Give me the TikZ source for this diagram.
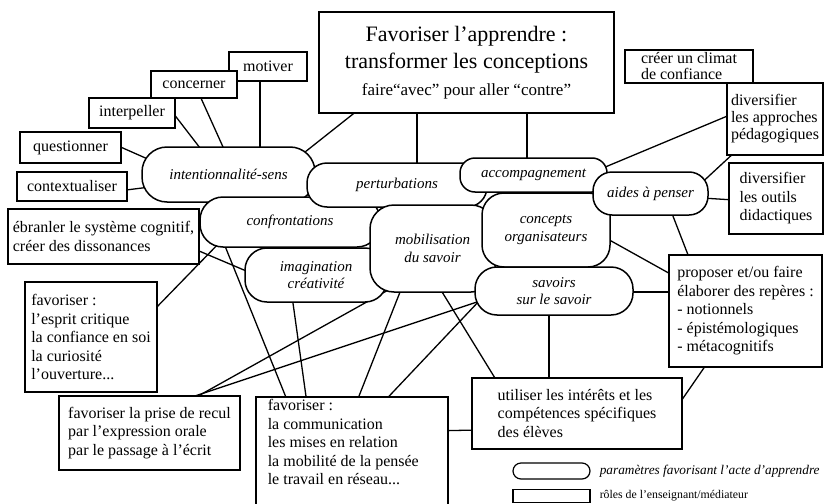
\documentclass[tikz,border=0pt]{standalone}
\usepackage{fontspec}
\setmainfont{Liberation Serif}
\usetikzlibrary{positioning, backgrounds}

\begin{document}
\begin{tikzpicture}[x=1pt, y=-1pt]
		\tikzstyle{Role} = [rectangle, draw=black, fill=white, line width=1.5pt, align=left, inner sep=0pt, font=\fontsize{16}{18.5}\selectfont]
		\tikzstyle{Param} = [rectangle, rounded corners=20pt, draw=black, fill=white, line width=1.5pt, align=center, inner sep=0pt, font=\fontsize{15}{17.5}\selectfont\itshape]
		\tikzstyle{link} = [line width=1.3pt, black]
		
		\useasboundingbox (0,0) rectangle (826,503);
		
		\node (motiver) [Role, minimum width=78, minimum height=29] at (268,66.5) {motiver};
		\node (concerner) [Role, minimum width=86, minimum height=27] at (194,84.5) {concerner};
		\node (interpeller) [Role, minimum width=86, minimum height=30] at (132,113) {interpeller};
		\node (questionner) [Role, minimum width=101, minimum height=31] at (70.5,147.5) {questionner};
		\node (contextualiser) [Role, minimum width=110, minimum height=29] at (72,186.5) {contextualiser};
		\node (ebranler) [Role, minimum width=191, minimum height=55] at (103.5,236.5) {ébranler le système cognitif,\\créer des dissonances};
		\node (esprit) [Role, minimum width=132, minimum height=110] at (91,337) {favoriser :\\l'esprit critique\\la confiance en soi\\la curiosité\\l'ouverture...};
		\node (recul) [Role, minimum width=181, minimum height=74] at (149.5,433) {favoriser la prise de recul\\par l'expression orale\\par le passage à l'écrit};
		\node (comm) [Role, anchor=north west, inner xsep=12pt, inner ysep=2.5pt] at (255,396) {\parbox[c][111pt][t]{168pt}{favoriser :\\la communication\\les mises en relation\\la mobilité de la pensée\\le travail en réseau...}};
		\node (utiliser) [Role, minimum width=210, minimum height=71] at (577,413.5) {utiliser les intérêts et les\\compétences spécifiques\\des élèves};
		\node (proposer) [Role, minimum width=153, minimum height=112] at (745.5,311) {proposer et/ou faire\\élaborer des repères :\\- notionnels\\- épistémologiques\\- métacognitifs};
		\node (outils) [Role, minimum width=94, minimum height=71] at (776,198.5) {diversifier\\les outils\\didactiques};
		\node (climat) [Role, minimum width=128, minimum height=33, font=\fontsize{16}{16}\selectfont] at (689,66.5) {créer un climat\\de confiance};
		\node (approches) [Role, minimum width=96, minimum height=72, font=\fontsize{16}{17}\selectfont] at (775,119) {diversifier\\les approches\\pédagogiques};
		\node (title) [Role, align=center, minimum width=295, minimum height=101, font=\fontsize{22}{27}\selectfont] at (466.5,62.5) {Favoriser l'apprendre :\\transformer les conceptions\\{\fontsize{17}{20}\selectfont faire“avec” pour aller “contre”}};
		
		\node (intent) [Param, rounded corners=25pt, minimum width=173, minimum height=55] at (228.5,174.5) {intentionnalité-sens};
		\node (confront) [Param, rounded corners=23pt, minimum width=180, minimum height=50] at (290,222) {confrontations};
		\node (perturb) [Param, rounded corners=20pt, minimum width=180, minimum height=44] at (397,185) {perturbations};
		\node (imagin) [Param, rounded corners=22pt, minimum width=142, minimum height=54] at (316,275) {imagination\\créativité};
		\node (mobil) [Param, rounded corners=24pt, minimum width=125, minimum height=87] at (432.5,248.5) {mobilisation\\du savoir};
		\node (accomp) [Param, rounded corners=15pt, minimum width=147, minimum height=34] at (533.5,175) {accompagnement};
		\node (concepts) [Param, rounded corners=22pt, minimum width=128, minimum height=74] at (546,230) {concepts\\organisateurs};
		\node (aides) [Param, rounded corners=19pt, minimum width=115, minimum height=43] at (650.5,193.5) {aides à penser};
		\node (savoirs) [Param, rounded corners=22pt, minimum width=158, minimum height=48] at (554,291) {savoirs\\sur le savoir};
		
		\begin{pgfonlayer}{background}
		\draw [link] ([shift={(4,7)}]concerner.center) -- ([shift={(-3,-22)}]intent.center);
		\draw [link] ([shift={(38,-4)}]interpeller.center) -- ([shift={(-25,-22)}]intent.center);
		\draw [link] ([shift={(-8,8)}]motiver.center) -- ([shift={(31.5,-22)}]intent.center);
		\draw [link] ([shift={(45.5,-2.5)}]questionner.center) -- ([shift={(-78.5,-14.5)}]intent.center);
		\draw [link] ([shift={(50,4)}]contextualiser.center) -- ([shift={(-78.5,12.5)}]intent.center);
		\draw [link] ([shift={(-106.5,46)}]title.center) -- ([shift={(71.5,-18.5)}]intent.center);
		\draw [link] ([shift={(-49.5,45.5)}]title.center) -- ([shift={(20,-16)}]perturb.center);
		\draw [link] ([shift={(60.5,45.5)}]title.center) -- ([shift={(-6.5,-12)}]accomp.center);
		\draw [link] ([shift={(67,-6)}]accomp.center) -- ([shift={(-44,-4.5)}]approches.center);
		\draw [link] ([shift={(52,-11.5)}]aides.center) -- ([shift={(-39,32)}]approches.center);
		\draw [link] ([shift={(51.5,4.5)}]aides.center) -- ([shift={(-42,1.5)}]outils.center);
		\draw [link] ([shift={(20.5,17.5)}]aides.center) -- ([shift={(-55.5,-51)}]proposer.center);
		\draw [link] ([shift={(58,7)}]concepts.center) -- ([shift={(-71.5,-35)}]proposer.center);
		\draw [link] ([shift={(73,1)}]savoirs.center) -- ([shift={(-70.5,-19)}]proposer.center);
		\draw [link] ([shift={(-37.5,51)}]proposer.center) -- ([shift={(102,-9.5)}]utiliser.center);
		\draw [link] ([shift={(-5,18)}]savoirs.center) -- ([shift={(-28,-29.5)}]utiliser.center);
		\draw [link] ([shift={(6.5,38.5)}]mobil.center) -- ([shift={(-79,-30.5)}]utiliser.center);
		\draw [link] ([shift={(-73,8)}]savoirs.center) -- ([shift={(33,-54)}]comm.center);
		\draw [link] ([shift={(-30.5,38.5)}]mobil.center) -- ([shift={(5,-53)}]comm.center);
		\draw [link] ([shift={(-24,21)}]imagin.center) -- ([shift={(-45,-53)}]comm.center);
		\draw [link] ([shift={(-67,19)}]confront.center) -- ([shift={(-64,-53)}]comm.center);
		\draw [link] ([shift={(-42.5,40.5)}]mobil.center) -- ([shift={(41.5,-33)}]recul.center);
		\draw [link] ([shift={(-71,9)}]savoirs.center) -- ([shift={(42.5,-36)}]recul.center);
		\draw [link] ([shift={(62,-26)}]esprit.center) -- ([shift={(-66,16)}]confront.center);
		\draw [link] ([shift={(88.5,11.5)}]ebranler.center) -- ([shift={(-65,-2)}]imagin.center);
		\draw [link] ([shift={(90,-24)}]comm.center) -- ([shift={(-99,16.5)}]utiliser.center);
		\end{pgfonlayer}
		
		\node (legpar) [Param, rounded corners=8pt, line width=1.2pt, minimum width=77, minimum height=16] at (551.5,471) {};
		\node (legrole) [Role, line width=1.2pt, minimum width=77, minimum height=13] at (551.5,496) {};
		\node (legpartext) [right=9pt of legpar, inner sep=0pt, font=\fontsize{13.3}{16}\selectfont\itshape] {paramètres favorisant l'acte d'apprendre};
		\node (legroletext) [right=9pt of legrole, inner sep=0pt, font=\fontsize{11.8}{14}\selectfont] {rôles de l'enseignant/médiateur};
\end{tikzpicture}
\end{document}
